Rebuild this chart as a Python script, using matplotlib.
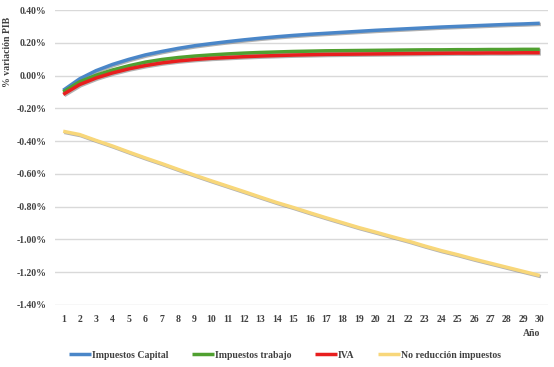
import matplotlib
matplotlib.use("Agg")
import matplotlib.pyplot as plt
import matplotlib.patheffects as pe
from matplotlib.ticker import FuncFormatter, MultipleLocator

years = list(range(1, 31))
impuestos_capital = [-0.090, -0.020, 0.030, 0.068, 0.099, 0.126, 0.147, 0.166, 0.182, 0.195,
                     0.207, 0.218, 0.228, 0.237, 0.245, 0.252, 0.258, 0.264, 0.270, 0.276,
                     0.281, 0.286, 0.291, 0.296, 0.300, 0.304, 0.308, 0.312, 0.315, 0.319]
impuestos_trabajo = [-0.100, -0.038, 0.002, 0.034, 0.060, 0.082, 0.098, 0.110, 0.119, 0.126,
                     0.132, 0.137, 0.141, 0.144, 0.147, 0.149, 0.151, 0.152, 0.153, 0.154,
                     0.155, 0.156, 0.157, 0.157, 0.158, 0.158, 0.159, 0.159, 0.160, 0.160]
iva = [-0.115, -0.055, -0.015, 0.016, 0.041, 0.061, 0.077, 0.089, 0.098, 0.105,
       0.110, 0.115, 0.119, 0.122, 0.125, 0.127, 0.129, 0.130, 0.131, 0.132,
       0.133, 0.134, 0.135, 0.136, 0.137, 0.137, 0.138, 0.138, 0.139, 0.139]
no_reduccion = [-0.340, -0.360, -0.396, -0.430, -0.467, -0.503, -0.537, -0.573, -0.608, -0.642,
                -0.675, -0.708, -0.742, -0.775, -0.805, -0.837, -0.868, -0.898, -0.928, -0.955,
                -0.983, -1.010, -1.040, -1.068, -1.093, -1.120, -1.145, -1.170, -1.195, -1.220]

series = [
    ("Impuestos Capital", impuestos_capital, "#4a86c8"),
    ("Impuestos trabajo", impuestos_trabajo, "#50a030"),
    ("IVA", iva, "#e81e1e"),
    ("No reducción impuestos", no_reduccion, "#f8d77a"),
]

plt.rcParams['font.family'] = ['Liberation Serif', 'DejaVu Serif']
plt.rcParams['font.weight'] = 'bold'

FS = 7

fig = plt.figure(figsize=(5.54, 3.67), dpi=100)
ax = fig.add_axes([55/554, 1-305/367, (548-55)/554, (305-10)/367])

xs = list(range(len(years)))
shadow = [pe.SimpleLineShadow(offset=(0.8, -0.8), shadow_color='#808080', alpha=0.6), pe.Normal()]
for name, vals, col in series:
    ax.plot(xs, vals, color=col, lw=2.5, label=name, path_effects=shadow, solid_capstyle='butt')

ax.set_xlim(-0.5, len(years) - 0.5)
ax.set_ylim(-1.4, 0.4)
ax.yaxis.set_major_locator(MultipleLocator(0.2))
ax.yaxis.set_major_formatter(FuncFormatter(lambda v, p: f"{v:.2f}%"))
ax.set_xticks(xs)
ax.set_xticklabels([str(y) for y in years])
ax.tick_params(axis='both', length=0, labelsize=FS, colors='#404040')
ax.tick_params(axis='x', pad=7)
ax.tick_params(axis='y', pad=6)
for lab in ax.get_xticklabels() + ax.get_yticklabels():
    lab.set_fontweight('bold')
ax.grid(axis='y', color='#d9d9d9', lw=1)
ax.set_axisbelow(True)
for s in ax.spines.values():
    s.set_visible(False)

fig.text(8/554, 1-52/367, "% variación PIB", rotation=90, ha='center', va='center',
         fontsize=FS, fontweight='bold', color='#404040')
fig.text(532/554, 1-333/367, "Año", ha='center', va='center', fontsize=FS,
         fontweight='bold', color='#404040')

leg = fig.legend(loc='center', bbox_to_anchor=(285/554, 1-355/367), ncol=4, frameon=False,
                 fontsize=FS, handlelength=2.3, handletextpad=0.1, columnspacing=2.4)
for t in leg.get_texts():
    t.set_color('#404040')
    t.set_fontweight('bold')
for h in leg.legend_handles:
    h.set_path_effects([])
    h.set_linewidth(2.5)

fig.savefig("out.png", dpi=100)
